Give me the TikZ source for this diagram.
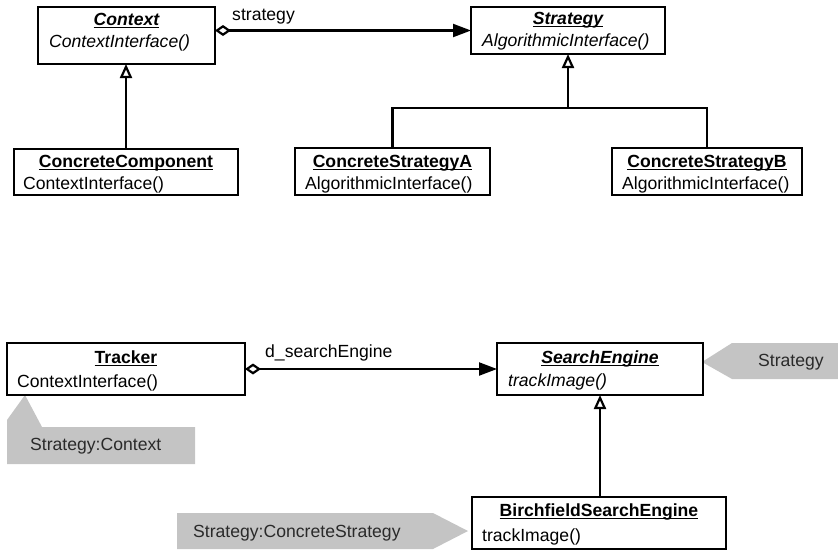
\documentclass[tikz,border=0pt]{standalone}
\usepackage{fontspec}
\setmainfont{Liberation Sans}
\usetikzlibrary{arrows.meta,calc}
\definecolor{notegray}{HTML}{C4C4C4}
\definecolor{notetext}{HTML}{2A2A2A}
\newsavebox\ulbx
\newcommand\ulx[1]{\sbox\ulbx{#1}\rlap{\usebox\ulbx}\rule[-3pt]{\wd\ulbx}{1.4pt}}
\begin{document}
\begin{tikzpicture}[x=1pt,y=-1pt,
  box/.style={draw, line width=2.2pt, anchor=north west, inner sep=0pt, outer sep=0pt},
  txt/.style={inner sep=0pt, font=\fontsize{17.6}{20}\selectfont},
  ttl/.style={txt, anchor=base},
  mth/.style={txt, anchor=base west},
  lbl/.style={txt, anchor=base west},
  ntxt/.style={txt, anchor=base west, text=notetext},
  conn/.style={line width=2.2pt},
  notefill/.style={fill=notegray, draw=none},
  aggr/.style={conn, {Diamond[open,fill=white,length=16pt,width=11pt]}-{Triangle[length=18pt,width=13pt]}},
  inh/.style={conn, -{Triangle[open,fill=white,length=14pt,width=12pt]}}]
\useasboundingbox (0,0) rectangle (838,550);

% notes (drawn first)
\fill[notefill] (7,464) -- (7,420) -- (25,395) -- (42,427) -- (195,427) -- (195,464) -- cycle;
\fill[notefill] (177,513) -- (433,513) -- (468,531) -- (433,549) -- (177,549) -- cycle;
\fill[notefill] (702,362) -- (732,343) -- (838,343) -- (838,379) -- (732,379) -- cycle;
\node[ntxt] (n1) at (30,450) {Strategy:Context};
\node[ntxt] (n2) at (193,537) {Strategy:ConcreteStrategy};
\node[ntxt] (n3) at (758,366) {Strategy};

% top: classes
\node[box, minimum width=177pt, minimum height=57pt] (ctx) at (38,7) {};
\node[ttl] (ctxT) at ($(ctx.north)+(0,18)$) {\bfseries\itshape\ulx{Context}};
\node[mth] (ctxM) at ($(ctx.north west)+(11,40)$) {\itshape ContextInterface()};

\node[box, minimum width=194pt, minimum height=47pt] (str) at (471,7) {};
\node[ttl] (strT) at ($(str.north)+(0,17)$) {\bfseries\itshape\ulx{Strategy}};
\node[mth] (strM) at ($(str.north west)+(11,39)$) {\itshape AlgorithmicInterface()};

\node[box, minimum width=224pt, minimum height=46pt] (cc) at (14,149) {};
\node[ttl] (ccT) at ($(cc.north)+(0,18)$) {\bfseries\ulx{ConcreteComponent}};
\node[mth] (ccM) at ($(cc.north west)+(9,40)$) {ContextInterface()};

\node[box, minimum width=195pt, minimum height=47pt] (csa) at (295,148) {};
\node[ttl] (csaT) at ($(csa.north)+(0,19)$) {\bfseries\ulx{ConcreteStrategyA}};
\node[mth] (csaM) at ($(csa.north west)+(10,41)$) {AlgorithmicInterface()};

\node[box, minimum width=190pt, minimum height=47pt] (csb) at (612,148) {};
\node[ttl] (csbT) at ($(csb.north)+(0,19)$) {\bfseries\ulx{ConcreteStrategyB}};
\node[mth] (csbM) at ($(csb.north west)+(10,41)$) {AlgorithmicInterface()};

% top: connectors
\draw[aggr] (ctx.east |- str.west) -- (str.west);
\node[lbl] (lstr) at (232,20) {strategy};
\draw[inh] (cc.north) -- (cc.north |- ctx.south);
\coordinate (junc) at (568,108);
\draw[inh] (junc) -- (str.south);
\draw[conn] (csa.north) -- (csa.north |- junc) -- (csb.north |- junc) -- (csb.north);

% bottom: classes
\node[box, minimum width=238pt, minimum height=52pt] (trk) at (7,343) {};
\node[ttl] (trkT) at ($(trk.north)+(0,20)$) {\bfseries\ulx{Tracker}};
\node[mth] (trkM) at ($(trk.north west)+(10,44)$) {ContextInterface()};

\node[box, minimum width=206pt, minimum height=52pt] (se) at (497,343) {};
\node[ttl] (seT) at ($(se.north)+(0,20)$) {\bfseries\itshape\ulx{SearchEngine}};
\node[mth] (seM) at ($(se.north west)+(11,43)$) {\itshape trackImage()};

\node[box, minimum width=254pt, minimum height=52pt] (bse) at (472,497) {};
\node[ttl] (bseT) at ($(bse.north)+(0,19)$) {\bfseries\ulx{BirchfieldSearchEngine}};
\node[mth] (bseM) at ($(bse.north west)+(10,44)$) {trackImage()};

% bottom: connectors
\draw[aggr] (trk.east) -- (se.west);
\node[lbl] (lse) at (265,357) {d\_searchEngine};
\draw[inh] (bse.north -| se.south) -- (se.south);
\end{tikzpicture}
\end{document}
